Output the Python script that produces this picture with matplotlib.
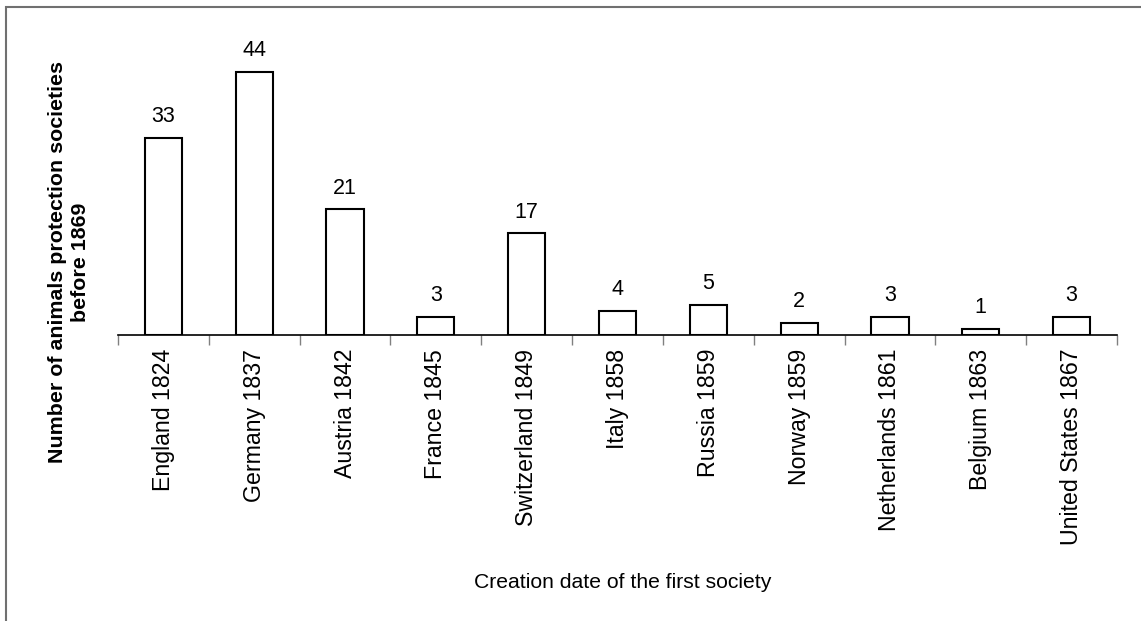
import matplotlib.pyplot as plt
from matplotlib.patches import Rectangle
import numpy as np

plt.rcParams['font.family'] = ['Liberation Sans', 'DejaVu Sans']

countries = ['England 1824', 'Germany 1837', 'Austria 1842', 'France 1845',
             'Switzerland 1849', 'Italy 1858', 'Russia 1859', 'Norway 1859',
             'Netherlands 1861', 'Belgium 1863', 'United States 1867']
societies = [33, 44, 21, 3, 17, 4, 5, 2, 3, 1, 3]

W, H = 1141, 621
fig = plt.figure(figsize=(W / 100, H / 100), dpi=100)
ax = fig.add_axes([118 / W, 1 - 335 / H, (1117 - 118) / W, (335 - 36) / H])

x = np.arange(len(countries))
ax.bar(x, societies, width=0.41, color='white', edgecolor='black', linewidth=1.5)
for xi, v in zip(x, societies):
    ax.text(xi, v + 1.8, str(v), ha='center', va='bottom', fontsize=15.5)

ax.set_xlim(-0.5, len(countries) - 0.5)
ax.set_ylim(0, 50)
ax.set_xticks(x)
ax.set_xticklabels(countries, rotation=90, fontsize=16.7)
ax.tick_params(axis='x', which='major', length=0, pad=10)
ax.set_xticks(np.arange(len(countries) + 1) - 0.5, minor=True)
ax.tick_params(axis='x', which='minor', length=7, width=1, color='#808080', direction='out')
ax.set_yticks([])
for s in ['top', 'right', 'left']:
    ax.spines[s].set_visible(False)
ax.spines['bottom'].set_linewidth(1.2)

ax.set_xlabel('Creation date of the first society', fontsize=15.2)
ax.xaxis.set_label_coords((623 - 118) / 999, -(583 - 335) / 299)
ax.xaxis.label.set_va('center')
fig.text(69 / W, 1 - 262 / H, 'Number of animals protection societies\nbefore 1869',
         rotation=90, ha='center', va='center', fontsize=15.4, fontweight='bold',
         linespacing=1.3)

fig.patches.append(Rectangle((6 / W, -0.1), 2, 1 - 7 / H + 0.1, transform=fig.transFigure,
                             fill=False, edgecolor='#707070', linewidth=1.5))

fig.savefig('out.png', dpi=100)
